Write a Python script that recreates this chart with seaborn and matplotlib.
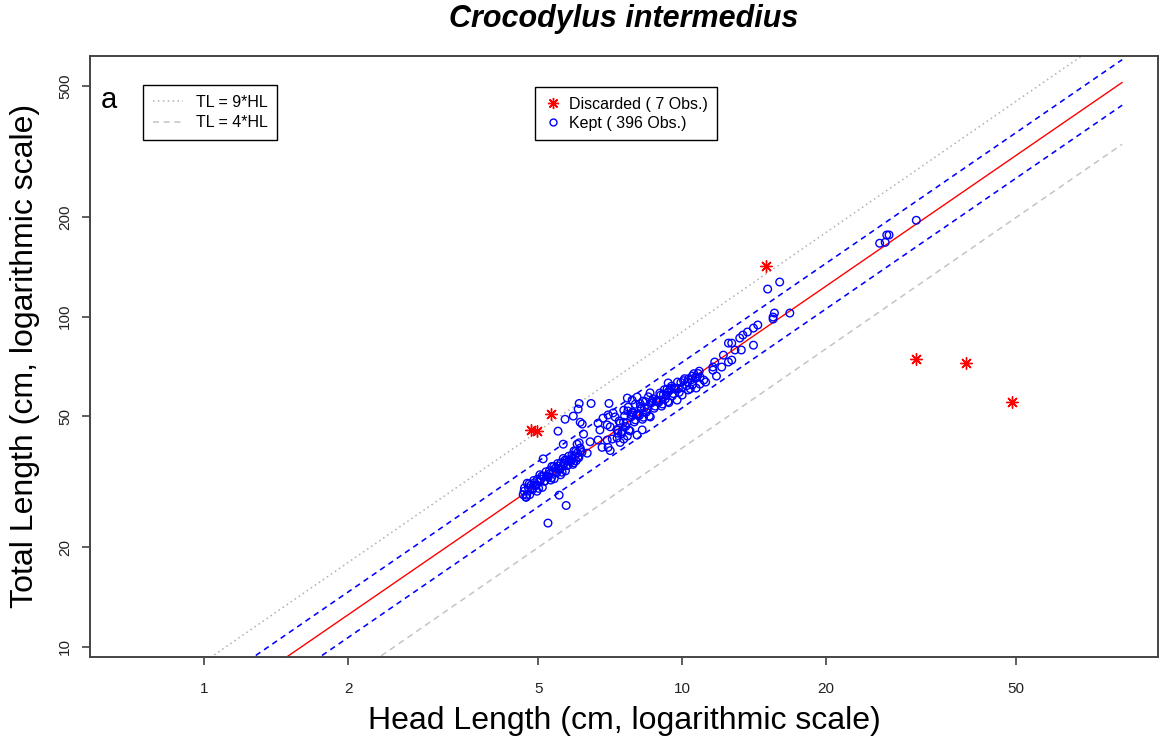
import numpy as np
import pandas as pd
import matplotlib
matplotlib.use("Agg")
import matplotlib.pyplot as plt
from matplotlib.lines import Line2D
from matplotlib.ticker import FixedLocator, FixedFormatter, NullLocator
import seaborn as sns

# ---------------- data ----------------
title = "Crocodylus intermedius"
x_label = "Head Length (cm, logarithmic scale)"
y_label = "Total Length (cm, logarithmic scale)"

x_ticks = [1, 2, 5, 10, 20, 50]
y_ticks = [10, 20, 50, 100, 200, 500]

# discarded observations (HL, TL)
hl_disc = [4.83, 4.97, 5.32, 15.0, 30.9, 39.3, 49.0]
tl_disc = [45.4, 45.0, 50.7, 142.4, 74.5, 72.4, 55.1]

# kept observations (HL, TL)
hl_kept = [
    # small animals cluster
    4.65, 4.68, 4.71, 4.74, 4.77, 4.80, 4.83, 4.86, 4.89, 4.92,
    4.95, 4.98, 5.01, 5.04, 5.07, 5.10, 5.13, 5.16, 5.19, 5.22,
    5.25, 5.28, 5.31, 5.34, 5.37, 5.40, 5.43, 5.46, 5.49, 5.52,
    5.55, 5.58, 5.61, 5.64, 5.67, 5.70, 5.73, 5.76, 5.79, 5.82,
    5.85, 5.88, 5.91, 5.94, 5.97, 6.00, 6.04, 6.08, 6.12, 6.17,
    4.67, 4.73, 4.79, 4.85, 4.91, 4.97, 5.03, 5.09, 5.15, 5.21,
    5.27, 5.33, 5.39, 5.45, 5.51, 5.57, 5.63, 5.69, 5.75, 5.81,
    5.87, 5.93, 5.99, 6.06, 6.14,
    # scattered around the small cluster
    5.24, 5.72, 5.53, 4.72, 5.12, 5.50, 5.64, 6.03, 6.12, 6.18,
    6.09, 6.45, 7.03, 6.33, 6.42, 6.09, 5.69, 6.06, 6.22, 5.92,
    # cluster around 7 cm
    6.67, 6.83, 7.00, 7.17, 7.24, 6.97, 7.07, 6.73, 6.67, 6.97,
    6.80, 7.00, 7.14, 7.31, 7.07,
    # main cluster 7.3 - 11 cm
    7.30, 7.38, 7.46, 7.54, 7.62, 7.70, 7.78, 7.86, 7.94, 8.02,
    8.10, 8.18, 8.26, 8.34, 8.42, 8.50, 8.58, 8.66, 8.74, 8.82,
    8.90, 8.98, 9.06, 9.14, 9.22, 9.30, 9.38, 9.46, 9.54, 9.62,
    9.70, 9.78, 9.86, 9.94, 10.02, 10.12, 10.22, 10.32, 10.45, 10.58,
    10.72, 10.86,
    7.34, 7.42, 7.50, 7.58, 7.66, 7.74, 7.82, 7.90, 7.98, 8.06,
    8.14, 8.22, 8.30, 8.38, 8.46, 8.54, 8.62, 8.70, 8.78, 8.86,
    8.94, 9.02, 9.10, 9.18, 9.26, 9.34, 9.42, 9.50, 9.58, 9.66,
    9.82, 10.07, 10.27, 10.50, 10.65, 10.80,
    7.68, 7.86, 8.05, 7.98, 7.71, 8.17, 8.28, 8.57, 9.35, 9.35,
    7.55, 7.86, 7.34, 7.55, 7.42, 7.68, 8.25, 8.05, 10.4, 10.9,
    # 11 - 15 cm
    9.76, 10.0, 10.3, 10.7, 10.5, 10.9, 11.1, 11.2, 11.8, 11.6,
    11.6, 12.1, 11.7, 12.5, 12.7, 12.2, 13.3, 12.9, 12.5, 12.7,
    13.2, 13.4, 13.7, 14.1, 14.4, 14.1,
    # larger animals
    15.5, 15.5, 15.6, 16.8, 15.1, 16.0,
    25.9, 26.6, 26.8, 27.1, 30.9,
]
tl_kept = [
    28.9, 30.3, 28.4, 31.3, 30.3, 28.9, 30.9, 29.9, 31.9, 30.9,
    30.8, 32.2, 30.2, 33.2, 32.2, 30.4, 32.9, 31.8, 33.9, 32.8,
    32.7, 34.2, 32.0, 35.2, 34.1, 32.3, 34.8, 33.6, 35.9, 34.7,
    34.5, 36.1, 33.8, 37.2, 36.0, 34.1, 36.7, 35.5, 37.8, 36.6,
    36.4, 38.0, 35.7, 39.2, 37.9, 36.6, 38.7, 37.4, 40.0, 38.8,
    29.6, 28.8, 31.2, 30.1, 31.4, 29.6, 31.6, 32.9, 31.7, 33.0,
    33.4, 32.5, 35.2, 33.9, 35.3, 33.2, 35.3, 36.8, 35.4, 36.8,
    37.2, 36.1, 39.1, 37.7, 39.3,
    23.7, 26.8, 28.8, 28.4, 37.1, 45.0, 41.1, 41.1, 47.9, 47.3,
    54.6, 54.6, 54.6, 38.6, 41.8, 41.5, 48.9, 52.5, 44.1, 50.0,
    47.6, 49.3, 50.4, 51.1, 49.7, 47.0, 46.4, 45.4, 42.3, 42.3,
    40.2, 40.2, 42.6, 42.9, 39.3,
    45.5, 48.3, 44.2, 47.9, 46.5, 51.8, 45.1, 50.4, 48.0, 50.5,
    50.5, 53.5, 48.9, 53.0, 51.4, 57.2, 49.7, 55.6, 52.8, 55.5,
    55.4, 58.7, 53.6, 58.1, 56.3, 60.3, 54.9, 60.7, 57.6, 60.5,
    60.4, 63.4, 59.0, 63.2, 61.2, 64.9, 61.8, 64.9, 64.4, 67.2,
    65.5, 68.4,
    45.3, 47.6, 44.9, 50.1, 47.7, 45.3, 49.7, 51.2, 48.7, 50.7,
    50.2, 52.7, 49.6, 55.3, 52.7, 50.0, 54.8, 56.4, 53.6, 55.8,
    55.1, 57.9, 54.4, 60.1, 57.7, 55.3, 59.9, 61.6, 58.5, 60.8,
    60.6, 64.0, 63.4, 66.1, 65.6, 67.3,
    56.7, 55.9, 57.1, 54.3, 53.2, 54.5, 55.5, 58.8, 63.0, 59.2,
    52.1, 51.2, 44.4, 42.6, 41.6, 43.5, 45.4, 43.8, 60.5, 62.5,
    55.9, 57.9, 60.0, 60.8, 62.1, 65.6, 64.3, 63.4, 66.1, 68.9,
    70.4, 70.4, 72.9, 72.9, 73.9, 76.5, 79.3, 79.3, 83.2, 83.2,
    86.2, 88.0, 89.9, 92.4, 94.4, 82.0,
    99.8, 98.4, 102.6, 102.6, 121.3, 127.4,
    167.0, 168.0, 176.9, 176.9, 196.0,
]

# fitted allometry (log10 TL = a + b log10 HL) and prediction band half-width (log10)
fit_a = 0.797
fit_b = 0.996
band_half = 0.069
ref_ratios = [9, 4]          # TL = 9*HL, TL = 4*HL
line_hl = [0.55, 83.3]       # extent of drawn lines

n_disc = 7
n_kept = 396

# ---------------- figure ----------------
sns.set_style("ticks")
plt.rcParams["font.family"] = ["Liberation Sans", "DejaVu Sans"]
plt.rcParams["text.color"] = "black"
plt.rcParams["axes.labelcolor"] = "black"

fig = plt.figure(figsize=(11.62, 7.40), dpi=100)
ax = fig.add_axes([90 / 1162, 1 - 656.7 / 740, (1158 - 90) / 1162, (656.7 - 55.7) / 740])
ax.set_xscale("log")
ax.set_yscale("log")

lhl = np.array(line_hl)
fit_tl = 10 ** (fit_a + fit_b * np.log10(lhl))
up_tl = fit_tl * 10 ** band_half
lo_tl = fit_tl / 10 ** band_half

sns.lineplot(x=lhl, y=ref_ratios[0] * lhl, color="#B0B0B0", lw=1.1,
             linestyle=(0, (1, 2.2)), ax=ax, sort=False, estimator=None)
sns.lineplot(x=lhl, y=ref_ratios[1] * lhl, color="#C4C4C4", lw=1.1,
             linestyle=(0, (4, 3)), ax=ax, sort=False, estimator=None)
sns.lineplot(x=lhl, y=up_tl, color="#0000FF", lw=1.15,
             linestyle=(0, (3.5, 2.8)), ax=ax, sort=False, estimator=None)
sns.lineplot(x=lhl, y=lo_tl, color="#0000FF", lw=1.15,
             linestyle=(0, (3.5, 2.8)), ax=ax, sort=False, estimator=None)
sns.lineplot(x=lhl, y=fit_tl, color="#FF0000", lw=1.0, ax=ax,
             sort=False, estimator=None)

kept = pd.DataFrame({"HL": hl_kept, "TL": tl_kept})
disc = pd.DataFrame({"HL": hl_disc, "TL": tl_disc})
sns.scatterplot(data=kept, x="HL", y="TL", marker="o", s=30,
                facecolor="none", edgecolor="#0000FF", linewidth=1.0, ax=ax, zorder=3)
sns.scatterplot(data=disc, x="HL", y="TL", marker=(8, 2, 0), s=70,
                color="#FF0000", linewidth=1.0, ax=ax, zorder=4)

ax.set_xlim(0.577, 99.0)
ax.set_ylim(9.33, 618)

ax.xaxis.set_major_locator(FixedLocator(x_ticks))
ax.xaxis.set_major_formatter(FixedFormatter([str(v) for v in x_ticks]))
ax.yaxis.set_major_locator(FixedLocator(y_ticks))
ax.yaxis.set_major_formatter(FixedFormatter([str(v) for v in y_ticks]))
ax.xaxis.set_minor_locator(NullLocator())
ax.yaxis.set_minor_locator(NullLocator())
ax.tick_params(axis="both", which="major", direction="out", length=6, width=1.1,
               color="#333333", labelsize=11, labelcolor="#222222")
ax.tick_params(axis="x", pad=12)
ax.tick_params(axis="y", pad=7)
for lab in ax.get_yticklabels():
    lab.set_rotation(90)
    lab.set_va("center")

for sp in ax.spines.values():
    sp.set_visible(True)
    sp.set_color("#444444")
    sp.set_linewidth(1.4)

ax.set_xlabel(x_label, fontsize=23, color="black")
ax.xaxis.set_label_coords(0.5, -0.082)
ax.set_ylabel(y_label, fontsize=23, color="black")
ax.yaxis.set_label_coords(-0.047, 0.5)

fig.text(ax.get_position().x0 + ax.get_position().width / 2, 1 - 19 / 740, title,
         fontsize=22, fontweight="bold", fontstyle="italic", ha="center", va="center",
         color="black")

ax.text((101 - 90) / 1068, 1 - (100 - 55.7) / 601, "a",
        transform=ax.transAxes, fontsize=21, ha="left", va="center", color="black")

h1 = [Line2D([], [], color="#B0B0B0", lw=1.1, linestyle=(0, (1, 2.2))),
      Line2D([], [], color="#C4C4C4", lw=1.1, linestyle=(0, (4, 3)))]
leg1 = ax.legend(h1, ["TL = 9*HL", "TL = 4*HL"], loc="upper left",
                 bbox_to_anchor=((143 - 90) / 1068, 1 - (85 - 55.7) / 601),
                 borderaxespad=0, fancybox=False, framealpha=1, edgecolor="black",
                 fontsize=11.5, handlelength=1.9, handletextpad=0.8,
                 labelspacing=0.35, borderpad=0.6)
leg1.get_frame().set_linewidth(1.0)
for t in leg1.get_texts():
    t.set_color("black")
ax.add_artist(leg1)

h2 = [Line2D([], [], color="#FF0000", marker=(8, 2, 0), markersize=8, lw=0, mew=1.0),
      Line2D([], [], color="#0000FF", marker="o", markersize=5, lw=0, mfc="none", mew=1.0)]
leg2 = ax.legend(h2, [f"Discarded ( {n_disc} Obs.)", f"Kept ( {n_kept} Obs.)"],
                 loc="upper left",
                 bbox_to_anchor=((535 - 90) / 1068, 1 - (87 - 55.7) / 601),
                 borderaxespad=0, fancybox=False, framealpha=1, edgecolor="black",
                 fontsize=11.5, handlelength=1.0, handletextpad=0.5,
                 labelspacing=0.25, borderpad=0.6)
leg2.get_frame().set_linewidth(1.0)
for t in leg2.get_texts():
    t.set_color("black")

fig.savefig("out.png", dpi=100, facecolor="white")
